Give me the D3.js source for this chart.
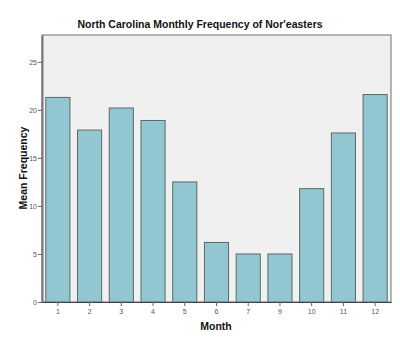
<!DOCTYPE html>
<html><head><meta charset="utf-8">
<script src="https://cdn.jsdelivr.net/npm/d3@7"></script>
<style>body{margin:0;background:#fff;} svg{display:block;}</style>
</head><body>
<svg id="chart" width="400" height="346"></svg>
<script>
const months = ["1","2","3","4","5","6","7","9","10","11","12"];
const meanFrequency = [21.3, 17.9, 20.2, 18.9, 12.5, 6.2, 5.0, 5.0, 11.8, 17.6, 21.6];
const yTicks = [0, 5, 10, 15, 20, 25];
const title = "North Carolina Monthly Frequency of Nor'easters";
const xLabel = "Month";
const yLabel = "Mean Frequency";

const svg = d3.select("#chart");
const m = {left: 42, right: 9, top: 35, bottom: 44};
const W = 400, H = 346;
const x = d3.scaleBand().domain(months).range([m.left, W - m.right]).paddingInner(0.24).paddingOuter(0.12);
const y = d3.scaleLinear().domain([0, 27.8]).range([H - m.bottom, m.top]);

svg.append("rect").attr("x", m.left).attr("y", m.top)
  .attr("width", W - m.right - m.left).attr("height", H - m.bottom - m.top)
  .attr("fill", "#f0f0f0").attr("stroke", "#888").attr("stroke-width", 1.2);

svg.selectAll("rect.bar").data(months).enter().append("rect").attr("class", "bar")
  .attr("x", d => x(d)).attr("width", x.bandwidth())
  .attr("y", (d, i) => y(meanFrequency[i]))
  .attr("height", (d, i) => y(0) - y(meanFrequency[i]))
  .attr("fill", "#92c6d0").attr("stroke", "#5a6a6c").attr("stroke-width", 1);

const yAxis = svg.append("g").attr("transform", `translate(${m.left},0)`)
  .call(d3.axisLeft(y).tickValues(yTicks).tickSize(4).tickSizeOuter(0).tickPadding(1));
const xAxis = svg.append("g").attr("transform", `translate(0,${H - m.bottom})`)
  .call(d3.axisBottom(x).tickSize(4).tickSizeOuter(0).tickPadding(3));
[yAxis, xAxis].forEach(g => {
  g.selectAll("text").attr("font-family", "Liberation Sans, Arial, sans-serif").attr("font-size", 7).attr("fill", "#555");
  g.selectAll(".tick line").attr("stroke", "#666");
});
yAxis.select(".domain").attr("stroke", "#777").attr("stroke-width", 2);
xAxis.select(".domain").attr("stroke", "#444").attr("stroke-width", 1.2);

svg.append("text").attr("x", 200).attr("y", 28).attr("text-anchor", "middle")
  .attr("font-family", "Liberation Sans, Arial, sans-serif").attr("font-weight", "bold").attr("font-size", 10.5)
  .attr("fill", "#111").text(title);
svg.append("text").attr("x", 216).attr("y", 330).attr("text-anchor", "middle")
  .attr("font-family", "Liberation Sans, Arial, sans-serif").attr("font-weight", "bold").attr("font-size", 10.5)
  .attr("fill", "#111").text(xLabel);
svg.append("text").attr("transform", "translate(27,168) rotate(-90)").attr("text-anchor", "middle")
  .attr("font-family", "Liberation Sans, Arial, sans-serif").attr("font-weight", "bold").attr("font-size", 10.5)
  .attr("fill", "#111").text(yLabel);
</script>
</body></html>
